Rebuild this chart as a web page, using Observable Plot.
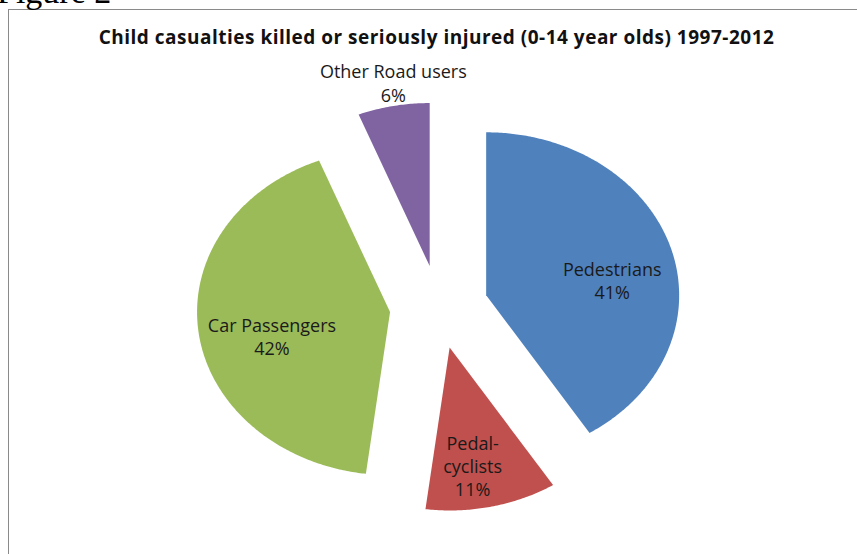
<!DOCTYPE html>
<html>
<head>
<meta charset="utf-8">
<script src="https://cdn.jsdelivr.net/npm/d3@7"></script>
<script src="https://cdn.jsdelivr.net/npm/@observablehq/plot@0.6"></script>
<style>
  html, body { margin: 0; padding: 0; background: #fff; }
  #wrap { position: relative; width: 857px; height: 554px; overflow: hidden; }
  #fig { position: absolute; left: -3px; top: -25px; font: 34px "Liberation Serif", serif; line-height: 34px; color: #000; white-space: nowrap; }
  #frame { position: absolute; left: 8px; top: 9px; width: 900px; height: 600px; border-left: 1.5px solid #8a8a8a; border-top: 1.5px solid #8a8a8a; }
  #title { position: absolute; left: 0; width: 873px; top: 24px; text-align: center; font: bold 19px "Open Sans", sans-serif; letter-spacing: 0.5px; color: #111; white-space: nowrap; }
  #chart { position: absolute; left: 0; top: 0; }
</style>
</head>
<body>
<div id="wrap">
  <div id="frame"></div>
  <div id="fig">Figure 2</div>
  <div id="chart"></div>
  <div id="title">Child casualties killed or seriously injured (0-14 year olds) 1997-2012</div>
</div>
<script>
// ---- data ----
const categories = ["Pedestrians", "Pedal-cyclists", "Car Passengers", "Other Road users"];
const shares = [41, 11, 42, 6];
const labelNames = ["Pedestrians", "Pedal-\ncyclists", "Car Passengers", "Other Road users"];
const colors = ["#4F81BD", "#C0504D", "#9BBB59", "#8064A2"];

// ---- layout (styling) ----
const W = 857, H = 554;
const cxPx = 438.4, cyPx = 306.4, rxPx = 193, ryPx = 163;
const explode = 0.255;
const labelPlacement = {
  "Pedestrians": {r: 0.66, shift: 7.9},
  "Pedal-cyclists": {r: 0.736, shift: 3.3},
  "Car Passengers": {r: 0.629, shift: -6.2},
  "Other Road users": {r: 1.141, shift: 1.3}
};

const rows = categories.map((c, i) => ({category: c, share: shares[i], name: labelNames[i]}));
const arcs = d3.pie().sort(null).value(d => d.share).startAngle(0).endAngle(2 * Math.PI)(rows);

const points = [];
const labels = [];
for (const a of arcs) {
  const m = (a.startAngle + a.endAngle) / 2;
  const ax = explode * Math.sin(m), ay = explode * Math.cos(m);
  points.push({category: a.data.category, x: ax, y: ay});
  const n = Math.max(8, Math.ceil((a.endAngle - a.startAngle) / 0.01));
  for (let k = 0; k <= n; k++) {
    const t = a.startAngle + (a.endAngle - a.startAngle) * k / n;
    points.push({category: a.data.category, x: ax + Math.sin(t), y: ay + Math.cos(t)});
  }
  points.push({category: a.data.category, x: ax, y: ay});
  const lp = labelPlacement[a.data.category];
  const lm = m + lp.shift * Math.PI / 180;
  labels.push({
    category: a.data.category,
    x: ax + lp.r * Math.sin(lm),
    y: ay + lp.r * Math.cos(lm),
    text: a.data.name + "\n" + a.data.share + "%"
  });
}

const plot = Plot.plot({
  width: W,
  height: H,
  margin: 0,
  style: {background: "transparent", overflow: "visible"},
  x: {domain: [-cxPx / rxPx, (W - cxPx) / rxPx], range: [0, W], axis: null},
  y: {domain: [-(H - cyPx) / ryPx, cyPx / ryPx], range: [H, 0], axis: null},
  color: {domain: categories, range: colors},
  marks: [
    Plot.line(points, {x: "x", y: "y", z: "category", fill: "category", stroke: "none", curve: "linear-closed"}),
    Plot.text(labels, {x: "x", y: "y", text: "text", fill: "#1a1a1a", fontSize: 18, fontFamily: "'Open Sans', sans-serif", lineHeight: 1.28, lineAnchor: "middle"})
  ]
});
document.getElementById("chart").appendChild(plot);
</script>
</body>
</html>
